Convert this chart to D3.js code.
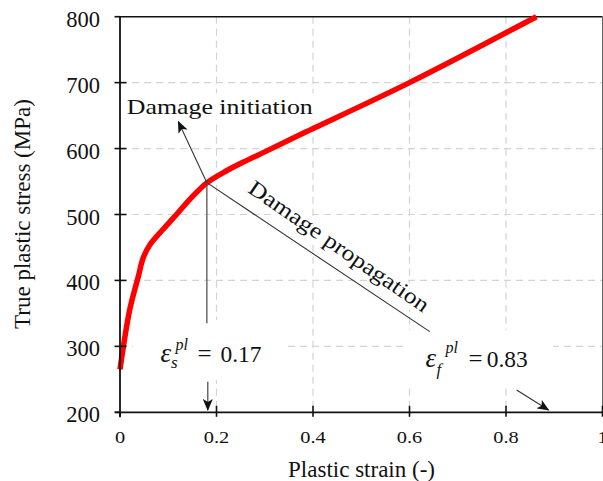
<!DOCTYPE html>
<html>
<head>
<meta charset="utf-8">
<script src="https://cdn.jsdelivr.net/npm/d3@7"></script>
<style>
  html, body { margin: 0; padding: 0; background: #fff; }
  svg { display: block; }
  text { font-family: "Liberation Serif", "Times New Roman", serif; fill: #111; }
</style>
</head>
<body>
<svg id="chart" width="603" height="481"></svg>
<script>
// Flow curve: true plastic stress vs plastic strain
const strain = [0, 0.02, 0.038, 0.048, 0.062, 0.09, 0.117, 0.15, 0.18, 0.22, 0.26, 0.3, 0.373, 0.6, 0.863];
const stress = [265, 355, 406, 434, 454, 478, 500, 527, 548, 566, 581, 595, 621, 700, 800];

const xTicks = [0, 0.2, 0.4, 0.6, 0.8, 1];
const xTickLabels = ["0", "0.2", "0.4", "0.6", "0.8", "1"];
const yTicks = [200, 300, 400, 500, 600, 700, 800];
const yTickLabels = ["200", "300", "400", "500", "600", "700", "800"];

// Damage markers (strain, stress)
const initPoint = [0.180, 548.3];
const initArrowTip = [0.121, 640.8];
const propagationEnd = [0.642, 322.3];
const initDrop = [0.180, 335];
const sArrow = [[0.182, 246.4], [0.182, 203.5]];
const fArrow = [[0.822, 233.8], [0.888, 203.5]];
const epsS = "0.17";
const epsF = "0.83";

const svg = d3.select("#chart");
const x = d3.scaleLinear().domain([0, 1]).range([120, 602.5]);
const y = d3.scaleLinear().domain([200, 800]).range([412.3, 16.7]);

// arrowhead
svg.append("defs").append("marker")
  .attr("id", "arrow")
  .attr("viewBox", "0 0 12 10")
  .attr("refX", 11).attr("refY", 5)
  .attr("markerUnits", "userSpaceOnUse")
  .attr("markerWidth", 12).attr("markerHeight", 10)
  .attr("orient", "auto")
  .append("path")
  .attr("d", "M0,0 L12,5 L0,10 L3,5 Z")
  .attr("fill", "#111");

// grid
const grid = svg.append("g")
  .attr("stroke", "#d4d4d4").attr("stroke-width", 1.2).attr("stroke-dasharray", "7,5");
grid.selectAll("line.v").data(xTicks.filter(d => d > 0 && d < 1)).join("line")
  .attr("x1", d => x(d)).attr("x2", d => x(d))
  .attr("y1", y(800)).attr("y2", y(200));
grid.selectAll("line.h").data(yTicks.filter(d => d > 200 && d < 800)).join("line")
  .attr("x1", x(0)).attr("x2", x(1))
  .attr("y1", d => y(d)).attr("y2", d => y(d));

// frame (top and right)
svg.append("line").attr("x1", x(0)).attr("x2", x(1)).attr("y1", y(800)).attr("y2", y(800))
  .attr("stroke", "#111").attr("stroke-width", 1.6);
svg.append("line").attr("x1", x(1)).attr("x2", x(1)).attr("y1", y(800)).attr("y2", y(200))
  .attr("stroke", "#666").attr("stroke-width", 1);

// text backgrounds
const bg = svg.append("g").attr("fill", "#fff");
bg.append("rect").attr("x", x(0.005)).attr("y", y(658) - 17).attr("width", 196).attr("height", 26);
bg.append("rect").attr("x", 133).attr("y", 320).attr("width", 150).attr("height", 60);
bg.append("rect").attr("x", 408).attr("y", 330).attr("width", 145).attr("height", 55);

// curve
const pts = strain.map((s, i) => [s, stress[i]]);
svg.append("path")
  .datum(pts)
  .attr("fill", "none")
  .attr("stroke", "#ff0000")
  .attr("stroke-width", 5.5)
  .attr("stroke-linejoin", "round")
  .attr("d", d3.line().x(d => x(d[0])).y(d => y(d[1])).curve(d3.curveCatmullRom.alpha(0.5)));

// axes lines
svg.append("line").attr("x1", x(0)).attr("x2", x(0)).attr("y1", y(800)).attr("y2", y(200) + 5)
  .attr("stroke", "#111").attr("stroke-width", 1.8);
svg.append("line").attr("x1", x(0) - 5).attr("x2", x(1)).attr("y1", y(200)).attr("y2", y(200))
  .attr("stroke", "#111").attr("stroke-width", 1.8);

// y ticks
svg.append("g").selectAll("line").data(yTicks).join("line")
  .attr("x1", x(0) - 5.5).attr("x2", d => d === 800 || d === 200 ? x(0) : x(0) + 6.5)
  .attr("y1", d => y(d)).attr("y2", d => y(d))
  .attr("stroke", "#111").attr("stroke-width", 1.6);
svg.append("g").selectAll("text").data(yTicks).join("text")
  .attr("x", 100).attr("y", d => y(d) + 10)
  .attr("text-anchor", "end").attr("font-size", 22.5)
  .text((d, i) => yTickLabels[i]);

// x ticks
svg.append("g").selectAll("line").data(xTicks).join("line")
  .attr("x1", d => x(d)).attr("x2", d => x(d))
  .attr("y1", d => d === 0 ? y(200) : y(200) - 6.5).attr("y2", y(200) + 4.5)
  .attr("stroke", "#111").attr("stroke-width", 1.6);
svg.append("g").selectAll("text").data(xTicks).join("text")
  .attr("transform", d => `translate(${x(d)},443.3) scale(1.2,1)`)
  .attr("text-anchor", "middle").attr("font-size", 17)
  .text((d, i) => xTickLabels[i]);

// axis titles
svg.append("text")
  .attr("x", 361.5).attr("y", 476.5)
  .attr("text-anchor", "middle").attr("font-size", 23)
  .text("Plastic strain (-)");
svg.append("text")
  .attr("transform", "translate(29.5,214) rotate(-90)")
  .attr("text-anchor", "middle").attr("font-size", 23)
  .text("True plastic stress (MPa)");

// annotation lines
const ann = svg.append("g").attr("stroke", "#333").attr("stroke-width", 1.1).attr("fill", "none");
ann.append("line")
  .attr("x1", x(initPoint[0])).attr("y1", y(initPoint[1]))
  .attr("x2", x(initArrowTip[0])).attr("y2", y(initArrowTip[1]))
  .attr("marker-end", "url(#arrow)");
ann.append("line")
  .attr("x1", x(initPoint[0])).attr("y1", y(initPoint[1]))
  .attr("x2", x(propagationEnd[0])).attr("y2", y(propagationEnd[1]));
ann.append("line")
  .attr("stroke", "#555").attr("stroke-width", 1.3)
  .attr("x1", x(initPoint[0])).attr("y1", y(initPoint[1]))
  .attr("x2", x(initDrop[0])).attr("y2", y(initDrop[1]));
ann.append("line")
  .attr("x1", x(sArrow[0][0])).attr("y1", y(sArrow[0][1]))
  .attr("x2", x(sArrow[1][0])).attr("y2", y(sArrow[1][1]))
  .attr("marker-end", "url(#arrow)");
ann.append("line")
  .attr("x1", x(fArrow[0][0])).attr("y1", y(fArrow[0][1]))
  .attr("x2", x(fArrow[1][0])).attr("y2", y(fArrow[1][1]))
  .attr("marker-end", "url(#arrow)");

// labels
svg.append("text")
  .attr("x", x(0.014)).attr("y", y(652.3))
  .attr("font-size", 22)
  .attr("textLength", 186).attr("lengthAdjust", "spacingAndGlyphs")
  .text("Damage initiation");

const ang = Math.atan2(y(propagationEnd[1]) - y(initPoint[1]), x(propagationEnd[0]) - x(initPoint[0])) * 180 / Math.PI + 0.8;
const prop = svg.append("g")
  .attr("transform", `translate(${x(0.2627)},${y(534.8)}) rotate(${ang})`);
prop.append("rect").attr("x", -4).attr("y", -17).attr("width", 222).attr("height", 22).attr("fill", "#fff");
prop.append("text")
  .attr("font-size", 22)
  .attr("textLength", 214).attr("lengthAdjust", "spacingAndGlyphs")
  .text("Damage propagation");

function strainLabel(px, py, sub, val, o) {
  const g = svg.append("g").attr("transform", `translate(${px},${py})`);
  g.append("text").attr("font-size", 27).attr("font-style", "italic").text("ε");
  g.append("text").attr("x", o.supX).attr("y", o.supY).attr("font-size", 16).attr("font-style", "italic").text("pl");
  g.append("text").attr("x", o.subX).attr("y", o.subY).attr("font-size", 17).attr("font-style", "italic").text(sub);
  g.append("text").attr("x", o.eqX).attr("font-size", 25).text("=");
  g.append("text").attr("x", o.valX).attr("font-size", 23)
    .attr("textLength", 41).attr("lengthAdjust", "spacingAndGlyphs").text(val);
}
strainLabel(160.5, 361.7, "s", epsS, { supX: 15, supY: -12, subX: 10.5, subY: 6.5, eqX: 37, valX: 60 });
strainLabel(425.5, 366.7, "f", epsF, { supX: 20, supY: -14, subX: 11, subY: 8, eqX: 43, valX: 61.3 });
</script>
</body>
</html>
